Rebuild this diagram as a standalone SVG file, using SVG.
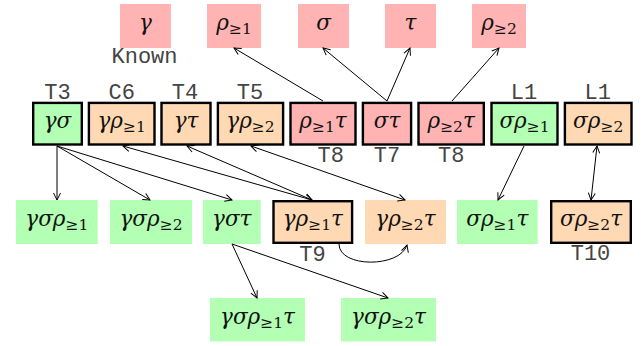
<svg xmlns="http://www.w3.org/2000/svg" width="644" height="346" viewBox="0 0 644 346">
<defs>
<marker id="ah" viewBox="0 0 10 10" refX="9" refY="5" markerWidth="10" markerHeight="10" markerUnits="userSpaceOnUse" orient="auto-start-reverse">
<path d="M2,1.5 L9,5 L2,8.5" fill="none" stroke="#000" stroke-width="1"/>
</marker>
<style>
.red{fill:#FFB3B3}
.grn{fill:#B3FFB3}
.org{fill:#FFD9B3}
.bd{stroke:#000;stroke-width:2.4}
.m{font-family:"DejaVu Serif","Liberation Serif",serif;font-style:italic;font-size:21.5px;fill:#111;text-anchor:middle}
.s{font-size:15.5px;font-style:normal}
.lb{font-family:"Liberation Mono","DejaVu Sans Mono",monospace;font-size:22px;fill:#444;text-anchor:middle}
.ed{fill:none;stroke:#000;stroke-width:1}
</style>
</defs>

<g id="n-gamma"><rect class="red" x="120" y="4" width="51" height="44"/><text class="m" x="145.5" y="30">γ</text></g>
<g id="n-rho1"><rect class="red" x="207" y="4" width="54" height="44"/><text class="m" x="234" y="30">ρ<tspan class="s" dy="4">≥1</tspan></text></g>
<g id="n-sigma"><rect class="red" x="298" y="4" width="51" height="44"/><text class="m" x="323.5" y="30">σ</text></g>
<g id="n-tau"><rect class="red" x="385" y="4" width="51" height="44"/><text class="m" x="410.5" y="30">τ</text></g>
<g id="n-rho2"><rect class="red" x="472" y="4" width="54" height="44"/><text class="m" x="499" y="30">ρ<tspan class="s" dy="4">≥2</tspan></text></g>
<text class="lb" x="144.5" y="63">Known</text>

<g id="n-gs"><rect class="grn bd" x="33.2" y="102.9" width="48.6" height="41.6"/><text class="m" x="57.5" y="128">γσ</text><text class="lb" x="57.5" y="99">T3</text></g>
<g id="n-gr1"><rect class="org bd" x="88.9" y="102.9" width="65.6" height="41.6"/><text class="m" x="121.7" y="128">γρ<tspan class="s" dy="4">≥1</tspan></text><text class="lb" x="121.7" y="99">C6</text></g>
<g id="n-gt"><rect class="org bd" x="161.5" y="102.9" width="49" height="41.6"/><text class="m" x="186" y="128">γτ</text><text class="lb" x="185" y="99">T4</text></g>
<g id="n-gr2"><rect class="org bd" x="217.9" y="102.9" width="65.2" height="41.6"/><text class="m" x="250.5" y="128">γρ<tspan class="s" dy="4">≥2</tspan></text><text class="lb" x="250" y="99">T5</text></g>
<g id="n-r1t"><rect class="red bd" x="290.5" y="102.9" width="65" height="41.6"/><text class="m" x="323" y="128">ρ<tspan class="s" dy="4">≥1</tspan><tspan dy="-4">τ</tspan></text><text class="lb" x="330.7" y="162">T8</text></g>
<g id="n-st"><rect class="red bd" x="362.9" y="102.9" width="48.2" height="41.6"/><text class="m" x="387" y="128">στ</text><text class="lb" x="387" y="162">T7</text></g>
<g id="n-r2t"><rect class="red bd" x="418.5" y="102.9" width="65.3" height="41.6"/><text class="m" x="451.2" y="128">ρ<tspan class="s" dy="4">≥2</tspan><tspan dy="-4">τ</tspan></text><text class="lb" x="451.3" y="162">T8</text></g>
<g id="n-sr1"><rect class="grn bd" x="491.5" y="102.9" width="66" height="41.6"/><text class="m" x="524.5" y="128">σρ<tspan class="s" dy="4">≥1</tspan></text><text class="lb" x="524" y="99">L1</text></g>
<g id="n-sr2"><rect class="org bd" x="564.9" y="102.9" width="66.6" height="41.6"/><text class="m" x="598.2" y="128">σρ<tspan class="s" dy="4">≥2</tspan></text><text class="lb" x="597.7" y="99">L1</text></g>

<g id="n-gsr1"><rect class="grn" x="16" y="200" width="81.7" height="44"/><text class="m" x="56.8" y="226">γσρ<tspan class="s" dy="4">≥1</tspan></text></g>
<g id="n-gsr2"><rect class="grn" x="110" y="200" width="82" height="44"/><text class="m" x="151" y="226">γσρ<tspan class="s" dy="4">≥2</tspan></text></g>
<g id="n-gst"><rect class="grn" x="203" y="200" width="57.7" height="44"/><text class="m" x="231.8" y="226">γστ</text></g>
<g id="n-gr1t"><rect class="org bd" x="273.5" y="201.2" width="78.6" height="41.6"/><text class="m" x="312.8" y="226">γρ<tspan class="s" dy="4">≥1</tspan><tspan dy="-4">τ</tspan></text><text class="lb" x="312.5" y="261">T9</text></g>
<g id="n-gr2t"><rect class="org" x="365" y="200" width="81" height="44"/><text class="m" x="405.5" y="226">γρ<tspan class="s" dy="4">≥2</tspan><tspan dy="-4">τ</tspan></text></g>
<g id="n-sr1t"><rect class="grn" x="457" y="200" width="80.7" height="44"/><text class="m" x="497.3" y="226">σρ<tspan class="s" dy="4">≥1</tspan><tspan dy="-4">τ</tspan></text></g>
<g id="n-sr2t"><rect class="org bd" x="551.2" y="201.2" width="79.6" height="41.6"/><text class="m" x="591" y="226">σρ<tspan class="s" dy="4">≥2</tspan><tspan dy="-4">τ</tspan></text><text class="lb" x="590.5" y="260">T10</text></g>

<g id="n-gsr1t"><rect class="grn" x="210" y="298" width="95" height="43.5"/><text class="m" x="257.5" y="324">γσρ<tspan class="s" dy="4">≥1</tspan><tspan dy="-4">τ</tspan></text></g>
<g id="n-gsr2t"><rect class="grn" x="341" y="298" width="95" height="43.5"/><text class="m" x="388.5" y="324">γσρ<tspan class="s" dy="4">≥2</tspan><tspan dy="-4">τ</tspan></text></g>

<g id="edges">
<path class="ed" marker-end="url(#ah)" d="M323,101 L234,48"/>
<path class="ed" marker-end="url(#ah)" d="M387,101 L323,48"/>
<path class="ed" marker-end="url(#ah)" d="M387,101 L410,48"/>
<path class="ed" marker-end="url(#ah)" d="M452,101 L499,48"/>
<path class="ed" marker-end="url(#ah)" d="M524,146 L498,200"/>
<path class="ed" marker-start="url(#ah)" marker-end="url(#ah)" d="M597,146 L591,200"/>
<path class="ed" marker-end="url(#ah)" d="M57,146 L57,200"/>
<path class="ed" marker-end="url(#ah)" d="M57,146 L150,200"/>
<path class="ed" marker-end="url(#ah)" d="M57,146 L232,200"/>
<path class="ed" marker-start="url(#ah)" marker-end="url(#ah)" d="M123,146 L312,200"/>
<path class="ed" marker-start="url(#ah)" marker-end="url(#ah)" d="M187,146 L312,200"/>
<path class="ed" marker-start="url(#ah)" marker-end="url(#ah)" d="M251,146 L405,200"/>
<path class="ed" marker-end="url(#ah)" d="M339,244 C339,268 400,268 407,245"/>
<path class="ed" marker-end="url(#ah)" d="M232,244 L257,298"/>
<path class="ed" marker-end="url(#ah)" d="M232,244 L388,298"/>
</g>
</svg>
